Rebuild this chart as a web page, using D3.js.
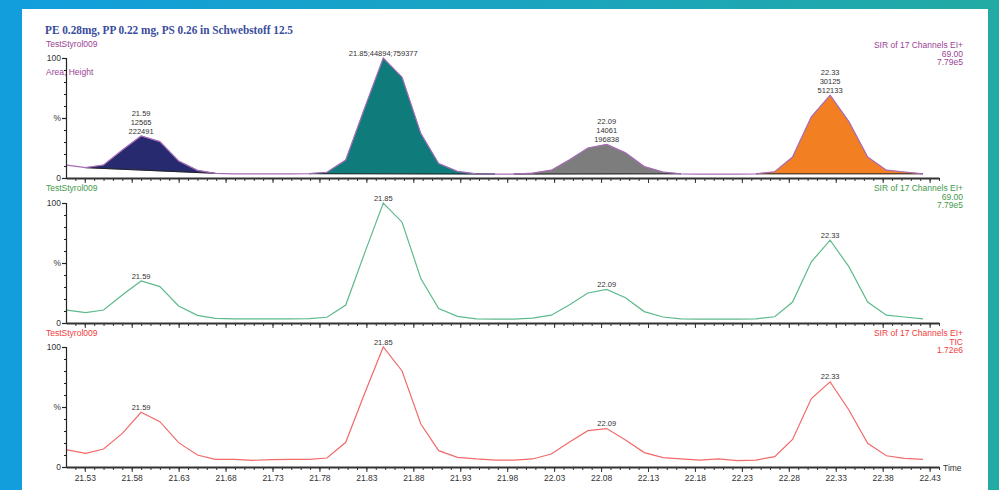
<!DOCTYPE html>
<html>
<head>
<meta charset="utf-8">
<script src="https://cdn.jsdelivr.net/npm/d3@7"></script>
<style>
  html, body { margin: 0; padding: 0; overflow: hidden; background: #fff; }
  text { font-family: "Liberation Sans", Arial, sans-serif; }
</style>
</head>
<body>
<svg id="chart" width="999" height="490"></svg>
<script>
// retention times of the scans (min)
const times = [
  21.511, 21.531, 21.550, 21.570, 21.590, 21.610, 21.630, 21.650, 21.669, 21.689,
  21.709, 21.729, 21.749, 21.769, 21.788, 21.808, 21.828, 21.848, 21.868, 21.888,
  21.907, 21.927, 21.947, 21.967, 21.987, 22.007, 22.027, 22.046, 22.066, 22.086,
  22.106, 22.126, 22.146, 22.165, 22.185, 22.205, 22.225, 22.245, 22.265, 22.284,
  22.304, 22.324, 22.344, 22.364, 22.384, 22.403, 22.423
];
// SIR 69.00 trace (% of 7.79e5)
const sirValues = [
  10.8, 8.6, 10.8, 23.3, 35, 30.3, 14.2, 6.4, 3.9, 3.5,
  3.5, 3.5, 3.5, 3.6, 4.8, 15, 58, 100, 84, 37,
  12, 5.5, 3.5, 3.3, 3.3, 4, 6.5, 15, 25, 28,
  21, 9.5, 5, 3.5, 3.3, 3.3, 3.3, 3.5, 5.2, 17.5,
  51, 69, 47, 17.5, 6.5, 5, 3.5
];
// TIC trace (% of 1.72e6)
const ticValues = [
  14.2, 11.4, 15, 28, 45.6, 37.8, 20.3, 10, 6.4, 6.4,
  5.6, 6.2, 6.4, 6.4, 7.5, 20.6, 61, 100, 80, 35.8,
  13.6, 8, 6.7, 5.8, 5.8, 6.7, 10.8, 20.6, 30.3, 32,
  22.5, 12, 7.8, 6.7, 5.8, 6.7, 5.3, 5.8, 8.6, 23,
  57, 71, 47.5, 19.7, 9.4, 7.2, 6.4
];
const xTickLabels = ["21.53", "21.58", "21.63", "21.68", "21.73", "21.78", "21.83", "21.88", "21.93", "21.98",
  "22.03", "22.08", "22.13", "22.18", "22.23", "22.28", "22.33", "22.38", "22.43"];
const peakLabels = ["21.59", "21.85", "22.09", "22.33"];
const peakScan = [4, 17, 29, 41];
const peakAreas = ["12565", "44894", "14061", "30125"];
const peakHeights = ["222491", "759377", "196838", "512133"];
const peakStart = [1, 13, 24, 37];
const peakEnd = [8, 23, 33, 46];

const title = "PE 0.28mg, PP 0.22 mg, PS 0.26 in Schwebstoff 12.5";

const svg = d3.select("#chart");

// background
const defs = svg.append("defs");
const grad = defs.append("linearGradient").attr("id", "bg").attr("x1", "0").attr("x2", "1").attr("y1", "0").attr("y2", "0");
grad.append("stop").attr("offset", "0").attr("stop-color", "#129ede");
grad.append("stop").attr("offset", "1").attr("stop-color", "#22aaa4");
svg.append("rect").attr("width", 999).attr("height", 490).attr("fill", "url(#bg)");
svg.append("rect").attr("x", 22).attr("y", 9).attr("width", 966).attr("height", 481).attr("fill", "#fff");

svg.append("text")
  .attr("x", 45).attr("y", 34)
  .attr("textLength", 248).attr("lengthAdjust", "spacingAndGlyphs")
  .style("font-family", "'Liberation Serif', 'DejaVu Serif', serif")
  .style("font-weight", "bold").style("font-size", "13px")
  .attr("fill", "#3a4c9c")
  .text(title);

const x = d3.scaleLinear().domain([21.51, 22.44]).range([66, 939]);

const panels = [
  { top: 58, bottom: 178, values: sirValues, color: "#9c3f97", line: "#a86bb8",
    right: ["SIR of 17 Channels EI+", "69.00", "7.79e5"], rightY: 48, leftY: 47, filled: true },
  { top: 203, bottom: 323, values: sirValues, color: "#3f9a4b", line: "#5dba8c",
    right: ["SIR of 17 Channels EI+", "69.00", "7.79e5"], rightY: 191, leftY: 191, filled: false },
  { top: 347, bottom: 467, values: ticValues, color: "#f03c3c", line: "#f26a6a",
    right: ["SIR of 17 Channels EI+", "TIC", "1.72e6"], rightY: 336, leftY: 336, filled: false }
];
const fillColors = ["#272a6e", "#0f7b7b", "#7d7d7d", "#f28022"];

const majorTicks = xTickLabels.map(Number);
const minorTicks = d3.range(21.52, 22.445, 0.01).map(d => +d.toFixed(2));

panels.forEach((p, pi) => {
  const y = d3.scaleLinear().domain([0, 100]).range([p.bottom, p.top]);
  const g = svg.append("g");

  // labels
  g.append("text").attr("x", 46).attr("y", p.leftY)
    .attr("fill", p.color).style("font-size", "8.5px").text("TestStyrol009");
  if (pi === 0) {
    g.append("text").attr("x", 46).attr("y", 74.5)
      .attr("fill", p.color).style("font-size", "8.5px").text("Area, Height");
  }
  p.right.forEach((t, i) => {
    g.append("text").attr("x", 963).attr("y", p.rightY + i * 8.7)
      .attr("text-anchor", "end").attr("fill", p.color).style("font-size", "8.5px").text(t);
  });

  // filled peaks
  if (p.filled) {
    peakStart.forEach((s, k) => {
      const e = peakEnd[k];
      const seg = d3.range(s, e + 1);
      const base = d3.scaleLinear().domain([times[s], times[e]]).range([p.values[s], p.values[e]]);
      const area = d3.area()
        .x(i => x(times[i]))
        .y0(i => y(base(times[i])))
        .y1(i => y(p.values[i]));
      g.append("path").datum(seg).attr("d", area)
        .attr("fill", fillColors[k]).attr("stroke", fillColors[k]).attr("stroke-width", 0.5);
      g.append("line")
        .attr("x1", x(times[s])).attr("x2", x(times[e]))
        .attr("y1", y(p.values[s])).attr("y2", y(p.values[e]))
        .attr("stroke", "#222").attr("stroke-width", 1);
    });
  }

  // trace
  const line = d3.line().x((d, i) => x(times[i])).y(d => y(d));
  g.append("path").datum(p.values).attr("d", line)
    .attr("fill", "none").attr("stroke", p.line).attr("stroke-width", 1.2);

  // peak annotations
  peakScan.forEach((si, k) => {
    const px = x(times[si]);
    const py = y(p.values[si]) - 2.5;
    let lines = [peakLabels[k]];
    if (pi === 0) {
      lines = k === 1 ? [peakLabels[k] + ";" + peakAreas[k] + ";" + peakHeights[k]]
                      : [peakLabels[k], peakAreas[k], peakHeights[k]];
    }
    lines.forEach((t, j) => {
      g.append("text").attr("x", px).attr("y", py - (lines.length - 1 - j) * 8.8)
        .attr("text-anchor", "middle").attr("fill", "#333").style("font-size", "7.5px").text(t);
    });
  });

  // y axis
  const yAxis = d3.axisLeft(y).tickValues(d3.range(0, 101, 10)).tickSize(2).tickFormat("");
  g.append("g").attr("transform", "translate(66,0)").call(yAxis)
    .call(a => a.selectAll("line,path").attr("stroke", "#222").attr("stroke-width", 1.2));
  g.append("g").attr("transform", "translate(66,0)")
    .call(d3.axisLeft(y).tickValues([0, 50, 100]).tickSize(4).tickPadding(1)
      .tickFormat(d => d === 50 ? "%" : d))
    .call(a => a.select(".domain").remove())
    .call(a => a.selectAll("line").attr("stroke", "#222").attr("stroke-width", 1.2))
    .call(a => a.selectAll("text").attr("fill", "#333").style("font-size", "8.5px")
      .style("font-family", "'Liberation Sans', Arial, sans-serif"));

  // x axis
  g.append("g").attr("transform", `translate(0,${p.bottom})`)
    .call(d3.axisBottom(x).tickValues(minorTicks).tickSize(3).tickFormat("").tickSizeOuter(0))
    .call(a => a.select(".domain").attr("stroke", "#333").attr("stroke-width", 2))
    .call(a => a.selectAll("line").attr("stroke", "#333"));
  const major = g.append("g").attr("transform", `translate(0,${p.bottom})`)
    .call(d3.axisBottom(x).tickValues(majorTicks).tickSize(5).tickPadding(3)
      .tickFormat((d, i) => pi === 2 ? xTickLabels[i] : "").tickSizeOuter(0))
    .call(a => a.select(".domain").remove())
    .call(a => a.selectAll("line").attr("stroke", "#333"))
    .call(a => a.selectAll("text").attr("fill", "#333").style("font-size", "8.5px")
      .style("font-family", "'Liberation Sans', Arial, sans-serif"));
});

svg.append("text").attr("x", 943).attr("y", 471)
  .attr("fill", "#333").style("font-size", "8.5px").text("Time");
</script>
</body>
</html>
